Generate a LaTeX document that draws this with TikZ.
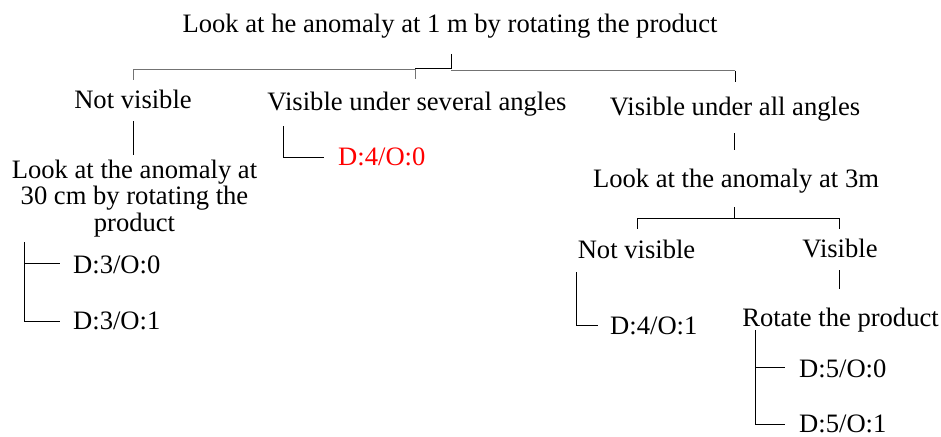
\documentclass[tikz,border=0pt]{standalone}
\usepackage{fontspec}
\setmainfont{Liberation Serif}
\begin{document}
\begin{tikzpicture}[x=1pt,y=-1pt,
  lbl/.style={inner sep=0pt, anchor=base, font=\fontsize{26.6}{26.7}\selectfont},
  leaf/.style={lbl, anchor=base west},
  ln/.style={line width=0.9pt, black},
  lng/.style={line width=0.9pt, black!55}]
\useasboundingbox (0,0) rectangle (941,436);
% texts
\node[lbl] (title) at (450,33) {Look at he anomaly at 1 m by rotating the product};
\node[lbl] (nv1) at (133,108) {Not visible};
\node[lbl] (vs) at (417,110) {Visible under several angles};
\node[lbl] (va) at (735,115) {Visible under all angles};
\node[lbl, align=center] (l30) at (134.5,231.5) {Look at the anomaly at\\30 cm by rotating the\\product};
\node[leaf] (d30) at (73,273) {D:3/O:0};
\node[leaf] (d31) at (73,329) {D:3/O:1};
\node[leaf, text=red] (d40) at (338,165) {D:4/O:0};
\node[lbl] (l3m) at (736,187) {Look at the anomaly at 3m};
\node[lbl] (nv2) at (636.5,258) {Not visible};
\node[lbl] (vis) at (840,257) {Visible};
\node[leaf] (d41) at (610,334) {D:4/O:1};
\node[lbl] (rot) at (840.5,326) {Rotate the product};
\node[leaf] (d50) at (799,377) {D:5/O:0};
\node[leaf] (d51) at (799,432) {D:5/O:1};
% junction coordinates
\coordinate (t0) at (451,54);
\coordinate (t1) at (451,68.5);
\coordinate (tm) at (415,68.5);
\coordinate (tmb) at (415,79);
\coordinate (tl) at (133,69.5);
\coordinate (tm2) at (415,69.5);
\coordinate (tlb) at (133,80);
\coordinate (tr0) at (451,70.5);
\coordinate (tr) at (735,70.5);
\coordinate (trb) at (735,81.5);
\coordinate (a0) at (133,121);
\coordinate (a1) at (133,155);
\coordinate (b0) at (283,126);
\coordinate (b1) at (283,157);
\coordinate (b2) at (324,157);
\coordinate (c0) at (24,242);
\coordinate (c1) at (24,263);
\coordinate (c2) at (60,263);
\coordinate (c3) at (24,321);
\coordinate (c4) at (60,321);
\coordinate (e0) at (734,133);
\coordinate (e1) at (734,150);
\coordinate (f0) at (734,207);
\coordinate (f1) at (734,218);
\coordinate (fl) at (637,218);
\coordinate (fr) at (839,218);
\coordinate (flb) at (637,229);
\coordinate (frb) at (839,229);
\coordinate (g0) at (576,272);
\coordinate (g1) at (576,325);
\coordinate (g2) at (598,325);
\coordinate (h0) at (839,270);
\coordinate (h1) at (839,289);
\coordinate (k0) at (755,330);
\coordinate (k1) at (755,367);
\coordinate (k2) at (785,367);
\coordinate (k3) at (755,424);
\coordinate (k4) at (785,424);
% connectors
\draw[ln] (t0) -- (t1) -- (tm);
\draw[lng] (tl) -- (tm2);
\draw[lng] (tr0) -- (tr);
\draw[lng] (tl) -- (tlb);
\draw[lng] (tm) -- (tmb);
\draw[ln] (tr) -- (trb);
\draw[ln] (a0) -- (a1);
\draw[ln] (b0) -- (b1) -- (b2);
\draw[ln] (c0) -- (c3) -- (c4);
\draw[ln] (c1) -- (c2);
\draw[ln] (e0) -- (e1);
\draw[ln] (f0) -- (f1);
\draw[ln] (fl) -- (fr);
\draw[ln] (fl) -- (flb);
\draw[ln] (fr) -- (frb);
\draw[ln] (g0) -- (g1) -- (g2);
\draw[ln] (h0) -- (h1);
\draw[ln] (k0) -- (k3) -- (k4);
\draw[ln] (k1) -- (k2);
\end{tikzpicture}
\end{document}
